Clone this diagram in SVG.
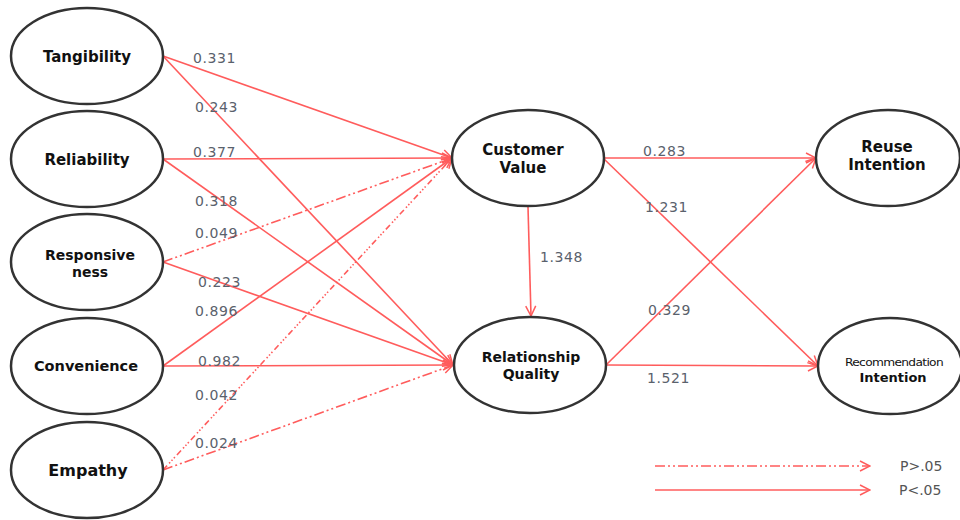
<svg xmlns="http://www.w3.org/2000/svg" width="960" height="520" viewBox="0 0 960 520">
<defs>
<marker id="arr" viewBox="0 0 12 12" refX="11" refY="6" markerWidth="12" markerHeight="12" markerUnits="userSpaceOnUse" orient="auto"><path d="M1,1 L11,6 L1,11" fill="none" stroke="#ff5c5c" stroke-width="1.5"/></marker>
</defs>
<style>
.node ellipse{fill:#fff;stroke:#333;stroke-width:2.5}
.node text{font-family:"DejaVu Sans",sans-serif;font-weight:bold;font-size:15px;fill:#111;text-anchor:middle}
.e{fill:none;stroke:#ff5c5c;stroke-width:1.6;marker-end:url(#arr)}
.dd{stroke-dasharray:10 3 2 3 2 3}
.dt{stroke-dasharray:6 3 1.5 2 1.5 2 1.5 3}
.lbl{font-family:"DejaVu Sans",sans-serif;font-size:14px;fill:#5a616c;letter-spacing:0.6px}
.leg{font-family:"DejaVu Sans",sans-serif;font-size:14px;fill:#555}
</style>
<rect width="960" height="520" fill="#fff"/>
<g id="connectors">
<line class="e" x1="163" y1="56" x2="452" y2="158"/>
<line class="e" x1="163" y1="56" x2="453" y2="365"/>
<line class="e" x1="163" y1="159" x2="452" y2="158"/>
<line class="e" x1="163" y1="159" x2="453" y2="365"/>
<line class="e dd" x1="163" y1="262" x2="452" y2="158"/>
<line class="e" x1="163" y1="262" x2="453" y2="365"/>
<line class="e" x1="163" y1="366" x2="452" y2="158"/>
<line class="e" x1="163" y1="366" x2="453" y2="365"/>
<line class="e dt" x1="163" y1="470" x2="452" y2="158"/>
<line class="e dd" x1="163" y1="470" x2="453" y2="365"/>
<line class="e" x1="528" y1="207" x2="531" y2="316"/>
<line class="e" x1="603" y1="158" x2="816" y2="158"/>
<line class="e" x1="603" y1="158" x2="818" y2="366"/>
<line class="e" x1="606" y1="365" x2="816" y2="158"/>
<line class="e" x1="606" y1="365" x2="818" y2="366"/>
</g>
<g id="edge-labels">
<text class="lbl" x="193" y="63">0.331</text>
<text class="lbl" x="195" y="112">0.243</text>
<text class="lbl" x="193" y="157">0.377</text>
<text class="lbl" x="195" y="206">0.318</text>
<text class="lbl" x="195" y="238">0.049</text>
<text class="lbl" x="198" y="287">0.223</text>
<text class="lbl" x="195" y="316">0.896</text>
<text class="lbl" x="198" y="366">0.982</text>
<text class="lbl" x="195" y="400">0.042</text>
<text class="lbl" x="195" y="448">0.024</text>
<text class="lbl" x="540" y="262">1.348</text>
<text class="lbl" x="643" y="156">0.283</text>
<text class="lbl" x="645" y="212">1.231</text>
<text class="lbl" x="648" y="315">0.329</text>
<text class="lbl" x="647" y="383">1.521</text>
</g>
<g id="tangibility" class="node"><ellipse cx="87" cy="56" rx="76" ry="48"/><text x="87" y="62">Tangibility</text></g>
<g id="reliability" class="node"><ellipse cx="87" cy="159" rx="76" ry="48"/><text x="87" y="165">Reliability</text></g>
<g id="responsiveness" class="node"><ellipse cx="87" cy="262" rx="76" ry="48"/><text x="90" y="260" style="font-size:14px">Responsive</text><text x="90" y="277" style="font-size:14px">ness</text></g>
<g id="convenience" class="node"><ellipse cx="87" cy="366" rx="76" ry="48"/><text x="86" y="371" style="font-size:14.5px">Convenience</text></g>
<g id="empathy" class="node"><ellipse cx="87" cy="470" rx="76" ry="48"/><text x="88" y="476" style="font-size:16px">Empathy</text></g>
<g id="customer-value" class="node"><ellipse cx="528" cy="158" rx="76" ry="48"/><text x="523" y="155">Customer</text><text x="523" y="173">Value</text></g>
<g id="relationship-quality" class="node"><ellipse cx="530" cy="365" rx="76" ry="48"/><text x="531" y="362" style="font-size:14px">Relationship</text><text x="531" y="379" style="font-size:14px">Quality</text></g>
<g id="reuse-intention" class="node"><ellipse cx="888" cy="158" rx="72" ry="48"/><text x="887" y="152">Reuse</text><text x="887" y="170">Intention</text></g>
<g id="recommendation-intention" class="node"><ellipse cx="890" cy="366" rx="72" ry="48"/><text x="894" y="366" style="font-size:11px;font-weight:normal;letter-spacing:-0.6px" textLength="98" lengthAdjust="spacingAndGlyphs">Recommendation</text><text x="893" y="382" style="font-size:13px">Intention</text></g>
<g id="legend">
<line class="e dd" x1="655" y1="466" x2="870" y2="466"/>
<line class="e" x1="655" y1="490" x2="870" y2="490"/>
<text class="leg" x="900" y="471">P&gt;.05</text>
<text class="leg" x="899" y="495">P&lt;.05</text>
</g>
</svg>
